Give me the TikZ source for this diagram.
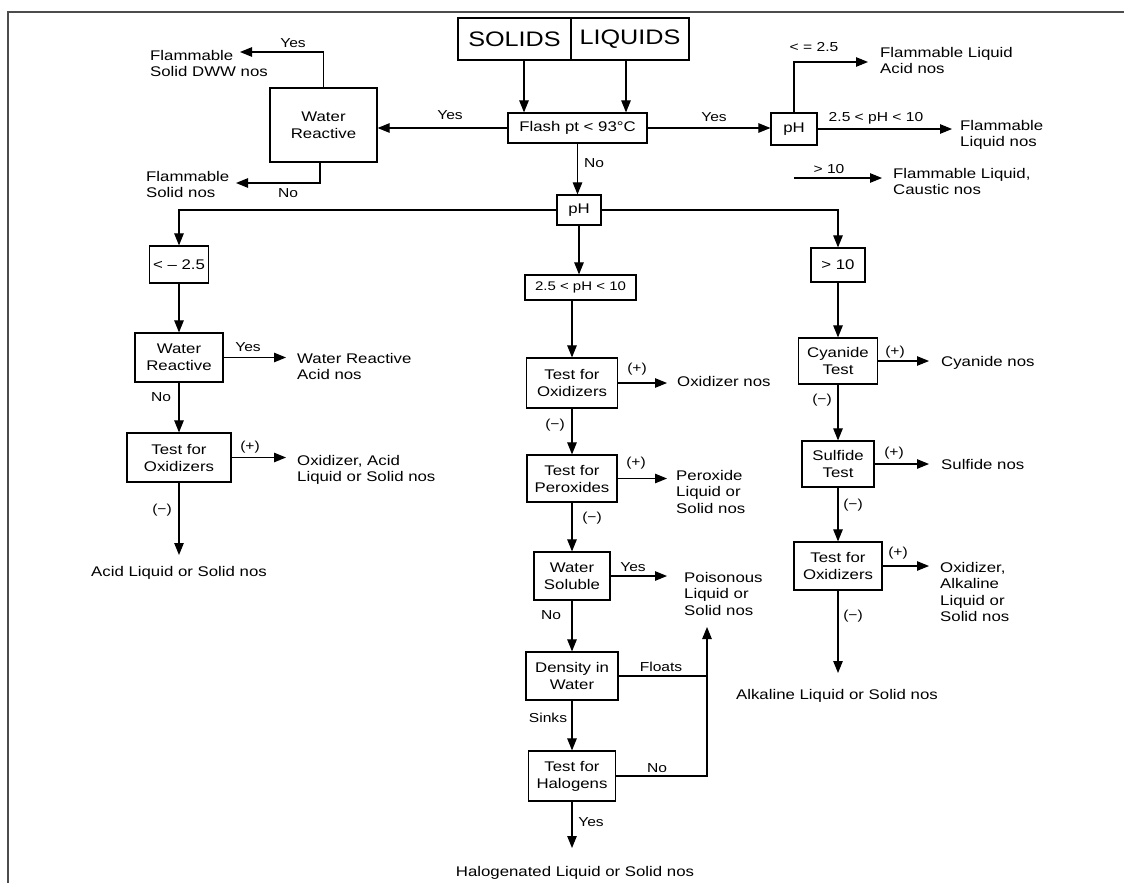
\documentclass[tikz,border=0pt]{standalone}
\usepackage{fontspec}
\setmainfont{Liberation Sans}[FakeStretch=1.2]
\usetikzlibrary{arrows.meta,calc}
\begin{document}
\begin{tikzpicture}[x=1pt,y=-1pt,
 box/.style={draw,line width=1.2pt,inner sep=0pt,align=center,font=\fontsize{14}{17}\selectfont},
 big/.style={font=\fontsize{21}{24}\selectfont},
 lab/.style={inner sep=0pt,font=\fontsize{13}{15}\selectfont},
 outtext/.style={inner sep=0pt,align=left,anchor=north west,font=\fontsize{14}{16.5}\selectfont},
 outcent/.style={inner sep=0pt,anchor=north,font=\fontsize{14}{16.5}\selectfont},
 arr/.style={line width=1.1pt,-{Triangle[length=12pt,width=9.5pt]}},
 ln/.style={line width=1.1pt}]
\useasboundingbox (0,0) rectangle (1124,883);
\draw[line width=2pt,color=black!70] (8,883) -- (8,12) -- (1124,12);

% boxes
\node[box,big,minimum width=113pt,minimum height=42pt] (solids) at (514.5,39) {SOLIDS};
\node[box,big,minimum width=118pt,minimum height=42pt] (liquids) at (630,39) {LIQUIDS};
\node[box,minimum width=139pt,minimum height=30pt] (flash) at (577.5,128) {Flash pt < 93°C};
\node[box,minimum width=107pt,minimum height=74pt] (wr1) at (323.5,125) {Water\\Reactive};
\node[box,minimum width=46pt,minimum height=32pt] (ph1) at (794,129) {pH};
\node[box,minimum width=44pt,minimum height=30pt] (ph) at (579,210) {pH};
\node[box,minimum width=59pt,minimum height=37pt] (lt) at (179,264.5) {< – 2.5};
\node[box,minimum width=54pt,minimum height=34pt] (gt) at (838,265) {> 10};
\node[box,minimum width=111pt,minimum height=25pt,font=\fontsize{12.5}{15}\selectfont] (mid) at (580.5,287.5) {2.5 < pH < 10};
\node[box,minimum width=88pt,minimum height=49pt] (wr2) at (179,357.5) {Water\\Reactive};
\node[box,minimum width=104pt,minimum height=49pt] (ox1) at (179,457.5) {Test for\\Oxidizers};
\node[box,minimum width=91pt,minimum height=50pt] (ox2) at (572,383) {Test for\\Oxidizers};
\node[box,minimum width=90pt,minimum height=47pt] (per) at (572,478.5) {Test for\\Peroxides};
\node[box,minimum width=76pt,minimum height=48pt] (ws) at (572,576) {Water\\Soluble};
\node[box,minimum width=92pt,minimum height=48pt] (den) at (572,676) {Density in\\Water};
\node[box,minimum width=87pt,minimum height=50pt] (hal) at (572,776) {Test for\\Halogens};
\node[box,minimum width=79pt,minimum height=46pt] (cy) at (838,361) {Cyanide\\Test};
\node[box,minimum width=72pt,minimum height=46pt] (sul) at (838,464) {Sulfide\\Test};
\node[box,minimum width=88pt,minimum height=48pt] (ox3) at (838,566) {Test for\\Oxidizers};

% outcome texts
\node[outtext] (fdww) at (150,50) {Flammable\\Solid DWW nos};
\node[outtext] (fsn) at (146,171) {Flammable\\Solid nos};
\node[outtext] (fla) at (880,47) {Flammable Liquid\\Acid nos};
\node[outtext] (fln) at (960,120) {Flammable\\Liquid nos};
\node[outtext] (flc) at (893,168) {Flammable Liquid,\\Caustic nos};
\node[outtext] (wra) at (297,353) {Water Reactive\\Acid nos};
\node[outtext] (oxa) at (297,455) {Oxidizer, Acid\\Liquid or Solid nos};
\node[outtext] (oxn) at (677,376) {Oxidizer nos};
\node[outtext] (pero) at (676,470) {Peroxide\\Liquid or\\Solid nos};
\node[outtext] (pois) at (684,572) {Poisonous\\Liquid or\\Solid nos};
\node[outtext] (cyn) at (941,356) {Cyanide nos};
\node[outtext] (suln) at (941,459) {Sulfide nos};
\node[outtext] (oxal) at (940,562) {Oxidizer,\\Alkaline\\Liquid or\\Solid nos};
\node[outcent] (acid) at (179,566) {Acid Liquid or Solid nos};
\node[outcent] (alk) at (837,689) {Alkaline Liquid or Solid nos};
\node[outcent] (halo) at (575,866) {Halogenated Liquid or Solid nos};

% arrow end coordinates
\coordinate (t1) at (240,52);
\coordinate (t2) at (236,183);
\coordinate (t3) at (868,62);
\coordinate (t4) at (952,129);
\coordinate (s5) at (794,178);
\coordinate (t5) at (882,178);
\coordinate (t6) at (286,358);
\coordinate (t7) at (286,459);
\coordinate (t8) at (667,381);
\coordinate (t9) at (667,477);
\coordinate (t10) at (667,576);
\coordinate (t11) at (929,361);
\coordinate (t12) at (929,464);
\coordinate (t13) at (929,566);
\coordinate (pin) at (707,627);

% connectors
\draw[arr] ($(solids.south)+(9.5,0)$) -- ($(solids.south |- flash.north)+(9.5,0)$);
\draw[arr] ($(liquids.south)+(-4,0)$) -- ($(liquids.south |- flash.north)+(-4,0)$);
\draw[arr] (flash.west) -- (flash.west -| wr1.east);
\draw[arr] (wr1.north) |- (t1);
\draw[arr] ($(wr1.south)+(-3.5,0)$) |- (t2);
\draw[arr] (flash.east) -- (flash.east -| ph1.west);
\draw[arr] (ph1.north) |- (t3);
\draw[arr] (ph1.east) -- (ph1.east -| t4);
\draw[arr] (s5) -- (t5);
\draw[arr] (flash.south) -- (flash.south |- ph.north);
\draw[arr] (ph.west) -| (lt.north);
\draw[arr] (ph.east) -| (gt.north);
\draw[arr] (ph.south) -- (ph.south |- mid.north);

\draw[arr] (lt.south) -- (wr2.north);
\draw[arr] (wr2.east) -- (wr2.east -| t6);
\draw[arr] (wr2.south) -- (ox1.north);
\draw[arr] (ox1.east) -- (ox1.east -| t7);
\draw[arr] (ox1.south) -- ($(ox1.south |- acid.north)+(0,-11)$);

\draw[arr] (ox2.north |- mid.south) -- (ox2.north);
\draw[arr] (ox2.east) -- (ox2.east -| t8);
\draw[arr] (ox2.south) -- (per.north);
\draw[arr] (per.east) -- (per.east -| t9);
\draw[arr] (per.south) -- (ws.north);
\draw[arr] (ws.east) -- (ws.east -| t10);
\draw[arr] (ws.south) -- (den.north);
\draw[arr] (den.east) -| (pin);
\draw[arr] (den.south) -- (hal.north);
\draw[ln] (hal.east) -| (den.east -| pin);
\draw[arr] (hal.south) -- ($(hal.south |- halo.north)+(0,-18)$);

\draw[arr] (gt.south) -- (cy.north);
\draw[arr] (cy.east) -- (cy.east -| t11);
\draw[arr] (cy.south) -- (sul.north);
\draw[arr] (sul.east) -- (sul.east -| t12);
\draw[arr] (sul.south) -- (ox3.north);
\draw[arr] (ox3.east) -- (ox3.east -| t13);
\draw[arr] (ox3.south) -- ($(ox3.south |- alk.north)+(0,-16)$);

% labels
\node[lab] (l1) at (450,115) {Yes};
\node[lab] (l2) at (293,43) {Yes};
\node[lab] (l3) at (288,193) {No};
\node[lab] (l4) at (714,117) {Yes};
\node[lab] (l5) at (814,47) {< = 2.5};
\node[lab] (l6) at (876,118) {2.5 < pH < 10};
\node[lab] (l7) at (829,169) {> 10};
\node[lab] (l8) at (594,163) {No};
\node[lab] (l9) at (248,347) {Yes};
\node[lab] (l10) at (161,397) {No};
\node[lab] (l11) at (250,447) {(+)};
\node[lab] (l12) at (162,510) {(−)};
\node[lab] (l13) at (637,369) {(+)};
\node[lab] (l14) at (555,425) {(−)};
\node[lab] (l15) at (636,463) {(+)};
\node[lab] (l16) at (592,518) {(−)};
\node[lab] (l17) at (633,567) {Yes};
\node[lab] (l18) at (551,615) {No};
\node[lab] (l19) at (661,667) {Floats};
\node[lab] (l20) at (548,718) {Sinks};
\node[lab] (l21) at (657,768) {No};
\node[lab] (l22) at (591,822) {Yes};
\node[lab] (l23) at (895,352) {(+)};
\node[lab] (l24) at (822,400) {(−)};
\node[lab] (l25) at (894,453) {(+)};
\node[lab] (l26) at (853,505) {(−)};
\node[lab] (l27) at (898,553) {(+)};
\node[lab] (l28) at (853,616) {(−)};
\end{tikzpicture}
\end{document}
